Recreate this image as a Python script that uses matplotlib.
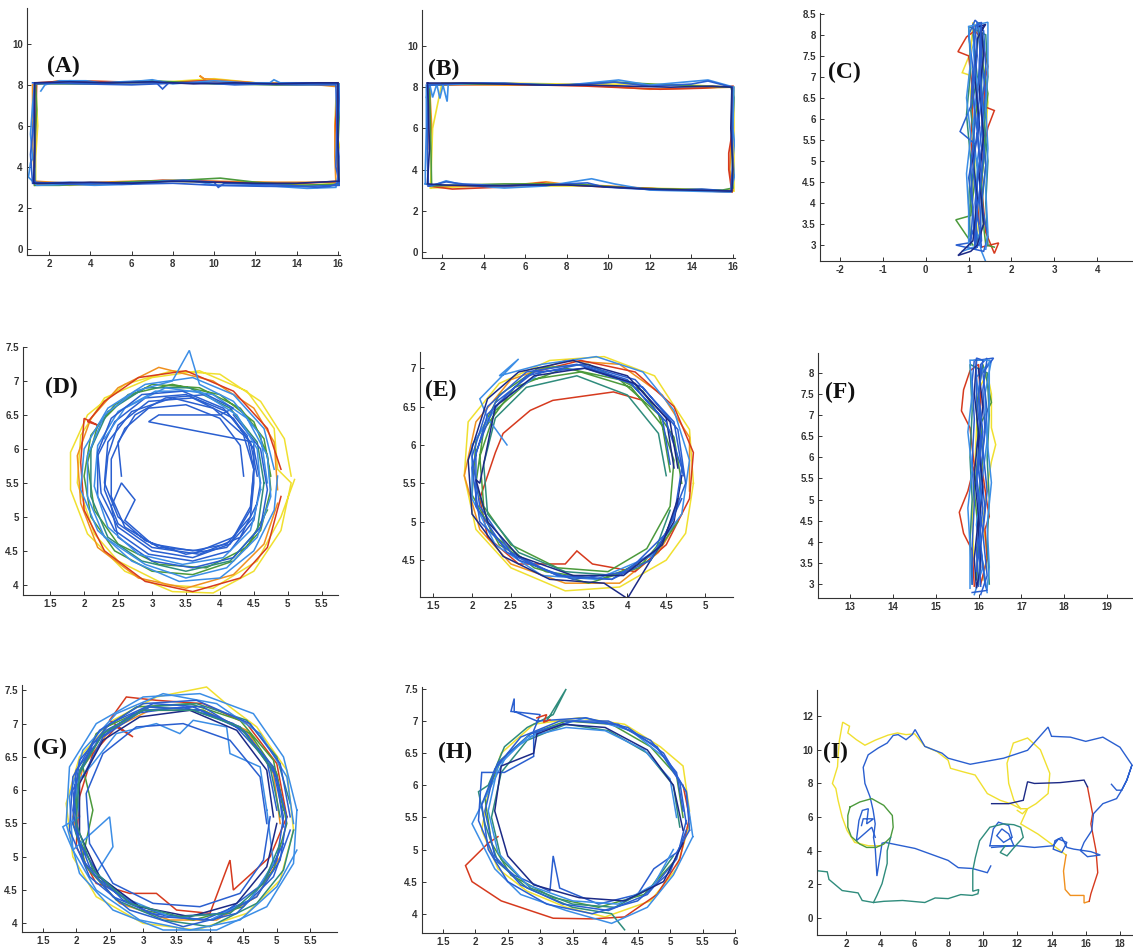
import matplotlib.pyplot as plt

W, H = 1133, 951

# jet-like trace colours
BLUE = '#2a5fd0'
SKY = '#3c8ee6'
NAVY = '#1c2a86'
TEAL = '#2f8c7c'
GREEN = '#4c9a3c'
YELLOW = '#f0e030'
ORANGE = '#f0901e'
RED = '#d63a1e'

# ---------------- panel A : rectangle
a_blue = [(1.3,3.25),(3.0,3.15),(5.0,3.2),(7.0,3.25),(8.5,3.35),(10.0,3.25),(10.2,3.0),(10.5,3.2),(12.0,3.15),
          (13.5,3.1),(15.0,3.0),(15.6,3.05),(16.0,3.2),(16.05,4.5),(15.95,6.0),(16.05,7.3),(16.0,8.05),(14.5,8.1),
          (12.5,8.05),(11.0,8.0),(9.5,8.1),(7.8,8.1),(7.5,7.8),(7.2,8.1),(5.0,8.1),(3.5,8.1),(1.3,8.05),(1.25,6.5),
          (1.3,5.0),(1.3,3.25)]
a_navy = [(1.25,3.2),(1.3,5.0),(1.3,6.8),(1.3,8.1),(3.0,8.15),(5.0,8.1),(7.0,8.15),(9.0,8.05),(11.0,8.1),(13.0,8.05),
          (15.0,8.1),(16.0,8.1),(16.0,6.5),(16.0,5.0),(16.05,3.3),(14.0,3.2),(12.0,3.2),(10.0,3.25),(8.0,3.3),
          (6.0,3.2),(4.0,3.25),(2.0,3.2),(1.25,3.2)]
a_sky = [(1.6,7.7),(1.8,8.0),(2.5,8.2),(3.8,8.2),(4.5,8.1),(6.5,8.2),(7.0,8.25),(8.0,8.05),(10.0,8.2),(11.5,8.1),
         (12.7,8.1),(12.9,8.25),(13.2,8.1),(14.8,8.1),(16.05,8.05),(16.1,7.2),(15.95,5.5),(16.05,3.8),(15.9,3.0),
         (14.5,2.95),(13.0,3.05),(11.5,3.1),(10.2,3.1),(9.0,3.3),(7.5,3.3),(6.0,3.15),(4.2,3.1),(3.0,3.15),
         (1.4,3.1),(1.0,3.5),(1.1,4.2),(1.2,4.4),(1.1,5.6),(1.2,7.0),(1.3,8.1)]
a_green = [(1.3,3.1),(2.5,3.1),(4.5,3.2),(6.5,3.3),(8.5,3.35),(10.3,3.45),(12.0,3.25),(14.0,3.1),(16.05,3.15),
           (16.0,5.0),(16.1,7.4),(16.05,8.05),(13.0,8.0),(10.0,8.05),(7.0,8.2),(4.0,8.05),(1.35,8.05),(1.4,6.8),
           (1.3,5.0),(1.3,3.1)]
a_yellow = [(1.35,8.1),(1.4,7.0),(1.45,6.0),(1.35,4.5),(1.35,3.2),(3.0,3.1),(6.0,3.2),(7.9,3.3),(10.0,3.25),
            (12.5,3.2),(14.5,3.1),(16.0,3.2),(16.2,4.5),(15.85,6.0),(15.9,7.2),(16.0,8.0),(13.0,8.0),(10.0,8.3),
            (7.0,8.1),(4.0,8.05),(1.35,8.1)]
a_orange = [(1.3,3.3),(3.0,3.2),(6.0,3.3),(8.0,3.3),(10.0,3.3),(13.0,3.25),(15.9,3.25),(15.85,4.5),(15.85,6.0),
            (16.0,7.6),(16.1,7.9),(14.0,8.1),(12.0,8.1),(9.5,8.3),(9.3,8.45),(9.6,8.2),(8.0,8.1),(5.0,8.15),
            (2.5,8.2),(1.2,8.0),(1.2,5.0),(1.3,3.3)]
a_red = [(1.3,3.15),(4.0,3.15),(7.5,3.35),(9.5,3.3),(12.0,3.2),(13.5,3.15),(16.0,3.3),(15.9,6.3),(16.0,8.1),
         (13.0,8.05),(9.5,8.2),(7.5,8.1),(3.0,8.2),(1.4,8.1),(1.35,6.0),(1.3,4.0)]
a_blue2 = [(1.2,8.1),(3.5,8.05),(6.0,8.0),(8.5,8.1),(11.0,8.05),(14.0,8.0),(15.9,8.0),(15.95,6.0),(15.9,4.0),
           (16.1,3.1),(14.5,3.05),(12.5,3.05),(10.0,3.1),(8.0,3.2),(5.5,3.15),(3.0,3.25),(1.2,3.2),(1.1,4.6),(1.25,6.2)]

# ---------------- panel B : rectangle
b_blue = [(1.35,3.2),(2.2,3.4),(3.0,3.3),(5.0,3.2),(7.0,3.25),(9.0,3.35),(9.8,3.15),(11.5,3.05),(13.0,3.0),
          (14.5,3.05),(15.9,2.95),(16.0,4.5),(15.95,6.5),(15.95,8.0),(14.8,8.3),(14.0,8.15),(12.0,8.05),
          (10.3,8.25),(9.0,8.15),(7.0,8.1),(5.0,8.2),(3.0,8.2),(1.35,8.1),(1.3,6.0),(1.3,4.5),(1.35,3.2)]
b_navy = [(1.3,8.2),(3.0,8.2),(5.0,8.15),(7.0,8.1),(9.0,8.1),(11.0,8.05),(13.0,8.0),(15.0,8.05),(15.95,8.0),
          (15.9,6.0),(16.0,4.0),(15.95,2.95),(14.0,3.0),(12.0,3.05),(10.0,3.15),(8.0,3.25),(6.0,3.25),(4.0,3.2),
          (2.0,3.25),(1.3,3.3),(1.4,5.0),(1.35,7.0),(1.3,8.2)]
b_zig = [(1.25,7.5),(1.4,8.2),(1.55,7.5),(1.75,8.15),(1.9,7.45),(2.05,8.1),(2.25,7.3),(2.3,8.1)]
b_green = [(1.4,3.2),(3.0,3.25),(5.0,3.3),(7.0,3.3),(9.0,3.25),(11.0,3.1),(13.0,3.05),(15.5,3.0),(16.0,3.1),
           (15.95,5.5),(16.05,7.5),(15.9,8.0),(13.0,8.1),(10.3,8.25),(8.0,8.1),(6.0,8.15),(3.0,8.15),(1.4,8.1),
           (1.45,6.0),(1.5,3.3)]
b_yellow = [(1.45,3.1),(4.0,3.2),(6.5,3.2),(9.0,3.2),(11.5,3.1),(14.0,3.05),(16.05,2.95),(16.05,5.5),(16.05,8.0),
            (14.0,8.1),(11.0,8.15),(8.0,8.15),(5.0,8.2),(2.0,8.2),(1.55,6.0),(1.5,4.5),(1.45,3.1)]
b_orange = [(1.5,3.2),(3.0,3.2),(5.0,3.2),(7.0,3.4),(7.8,3.3),(10.0,3.2),(12.5,3.05),(15.0,2.95),(16.0,3.0),
            (15.85,4.0),(15.9,5.0),(15.95,7.0),(16.0,8.0),(14.0,7.95),(12.0,7.9),(9.0,8.1),(5.0,8.1),(1.4,8.15),
            (1.5,6.2),(1.4,5.0)]
b_red = [(1.35,3.2),(2.5,3.05),(5.0,3.15),(6.8,3.35),(7.2,3.3),(10.0,3.15),(14.0,3.0),(15.95,2.9),(15.8,4.0),
         (15.8,4.8),(16.0,6.0),(16.0,8.05),(14.5,7.95),(12.5,7.9),(9.0,8.05),(5.0,8.15),(1.4,8.1),(1.3,5.0)]
b_sky = [(1.2,3.3),(1.5,3.2),(2.2,3.45),(3.0,3.25),(5.0,3.1),(7.0,3.2),(9.2,3.55),(10.3,3.3),(12.0,3.0),(14.0,2.95),
         (15.9,2.9),(16.1,3.8),(16.15,4.6),(16.0,6.0),(16.05,8.0),(14.8,8.35),(12.0,8.1),(10.5,8.35),(8.0,8.1),
         (4.0,8.2),(1.25,8.1),(1.25,6.0),(1.2,4.0),(1.2,3.3)]

# ---------------- panel C : vertical walk
c_yellow = [(1.2,3.1),(1.25,4.0),(1.35,5.0),(1.4,5.7),(1.45,6.4),(1.35,7.2),(1.25,8.0),(1.1,8.3),(1.05,7.6),
            (0.85,7.1),(1.0,7.05),(1.1,6.0),(1.15,5.0),(1.05,4.0),(1.2,3.1)]
c_red = [(1.3,2.95),(1.7,3.05),(1.6,2.8),(1.4,3.3),(1.3,4.4),(1.35,5.3),(1.45,5.8),(1.6,6.2),(1.35,6.3),(1.4,7.0),
         (1.45,7.25),(1.3,7.9),(1.15,8.1),(0.95,7.95),(0.75,7.6),(1.0,7.5),(1.1,6.6),(1.05,5.5),(1.15,4.5),(1.25,3.5)]
c_green = [(1.1,3.0),(0.7,3.6),(1.05,3.7),(1.15,4.6),(1.1,5.5),(1.2,6.4),(1.15,7.3),(1.25,8.2),(1.3,7.5),
           (1.45,6.6),(1.35,5.7),(1.4,4.9),(1.3,3.9),(1.4,3.0),(1.6,2.95)]
c_teal = [(1.0,3.2),(1.05,4.2),(1.15,5.2),(1.05,6.2),(1.2,7.0),(1.1,8.0),(1.25,8.3),(1.35,7.8),(1.3,6.8),(1.4,5.5),
          (1.3,4.5),(1.35,3.5),(1.15,3.0)]
c_teal2 = [(1.45,3.0),(1.4,4.0),(1.45,5.0),(1.35,6.0),(1.45,7.0),(1.4,8.0),(1.0,8.2),(1.05,7.2),(0.95,6.1),(1.05,5.0),
           (1.0,4.0),(1.05,3.0)]
c_blue = [(1.2,2.95),(1.15,4.0),(1.25,5.0),(1.2,6.0),(1.3,7.0),(1.25,7.8),(1.2,8.3),(1.35,8.1),(1.4,7.2),(1.3,6.2),
          (1.35,5.2),(1.25,4.2),(1.3,3.1),(1.15,2.9),(1.1,3.8),(1.05,4.9),(1.15,5.9),(1.1,6.8),(1.15,7.6),(1.1,8.25)]
c_blue2 = [(1.05,3.05),(1.1,3.9),(1.0,4.6),(1.15,5.4),(0.8,5.7),(1.05,6.3),(1.1,7.2),(1.0,8.0),(1.15,8.35),(1.3,8.2),
           (1.3,7.4),(1.4,6.6),(1.3,5.8),(1.4,4.9),(1.3,4.0),(1.45,3.2),(1.35,2.85),(0.7,3.0),(1.0,3.05),(1.2,3.6),
           (1.2,4.5),(1.3,5.3),(1.2,6.4),(1.25,7.3),(1.3,8.2)]
c_blue3 = [(1.0,2.9),(1.0,3.8),(0.95,4.7),(1.05,5.6),(0.95,6.5),(1.05,7.4),(1.0,8.2),(1.45,8.3),(1.45,7.3),(1.4,6.3),
           (1.45,5.3),(1.4,4.3),(1.45,3.3),(1.4,2.9)]
c_sky = [(1.4,2.6),(1.3,2.85),(1.15,3.5),(1.2,4.8),(1.1,5.8),(1.2,6.8),(1.1,7.7),(1.2,8.3),(1.3,8.0),(1.25,7.0),
         (1.35,6.0),(1.2,5.0),(1.3,4.0),(1.25,3.0),(0.85,2.85)]
c_navy = [(1.25,8.2),(1.4,8.25),(1.3,8.1),(1.35,7.5),(1.25,6.7),(1.35,5.6),(1.25,4.6),(1.35,3.5),(1.2,3.0),(1.05,2.85),
          (0.75,2.75),(1.1,3.1),(1.2,4.1),(1.1,5.0),(1.25,5.9),(1.15,6.9),(1.2,7.9),(1.35,8.2)]
c_navy2 = [(1.15,3.0),(1.2,3.9),(1.1,4.8),(1.2,5.7),(1.1,6.6),(1.2,7.5),(1.15,8.2),(1.3,8.3),(1.25,7.4),(1.3,6.5),
           (1.2,5.6),(1.3,4.7),(1.2,3.8),(1.3,2.95)]

# ---------------- panel D : circle
d_yellow = [(5.05,5.6),(4.95,6.15),(4.6,6.7),(4.0,7.1),(3.3,7.15),(2.6,6.95),(2.05,6.5),(1.8,5.95),(1.8,5.4),
            (2.05,4.75),(2.6,4.2),(3.3,3.9),(3.9,3.88),(4.5,4.2),(4.9,4.8),(5.05,5.5),(4.85,5.7),(4.8,6.3),
            (4.4,6.85),(3.7,7.15),(3.0,7.05),(2.3,6.75),(1.95,6.2),(1.9,5.5),(2.15,4.75),(2.5,4.35),(3.2,4.0),
            (3.9,3.95),(4.55,4.35),(4.9,5.0),(5.1,5.55)]
d_orange = [(4.85,5.4),(4.8,6.1),(4.5,6.6),(3.9,7.0),(3.1,7.2),(2.5,6.9),(2.1,6.45),(1.9,5.9),(1.95,5.2),
            (2.2,4.55),(2.8,4.1),(3.5,3.95),(4.2,4.15),(4.65,4.6),(4.85,5.2)]
d_red = [(4.9,5.7),(4.7,6.3),(4.2,6.85),(3.5,7.15),(2.8,7.05),(2.3,6.7),(2.1,6.45),(2.05,6.4),(2.2,6.35),(2.0,6.45),
         (1.95,5.8),(2.0,5.1),(2.3,4.5),(2.9,4.05),(3.6,3.9),(4.3,4.1),(4.7,4.55),(4.9,5.3)]
d_green = [(4.75,5.6),(4.65,6.15),(4.3,6.6),(3.7,6.9),(3.0,6.95),(2.45,6.65),(2.1,6.2),(2.0,5.6),(2.1,5.0),
           (2.45,4.5),(3.0,4.2),(3.6,4.15),(4.2,4.35),(4.6,4.8),(4.75,5.4),(4.7,5.9),(4.5,6.4),(4.0,6.8),(3.3,6.95),
           (2.65,6.8),(2.2,6.35),(2.05,5.8),(2.15,5.1),(2.5,4.6),(3.1,4.3),(3.8,4.25),(4.4,4.55),(4.7,5.1)]
d_teal = [(4.65,5.5),(4.55,6.1),(4.15,6.6),(3.55,6.9),(2.9,6.9),(2.35,6.55),(2.1,6.0),(2.1,5.3),(2.35,4.7),
          (2.85,4.35),(3.5,4.2),(4.15,4.35),(4.55,4.8),(4.65,5.5)]
d_blue = [(4.55,5.6),(4.45,6.1),(4.1,6.55),(3.5,6.8),(2.9,6.75),(2.45,6.4),(2.2,5.9),(2.2,5.3),(2.45,4.8),
          (2.95,4.45),(3.6,4.35),(4.15,4.5),(4.5,4.95),(4.6,5.5),(4.5,6.0),(4.2,6.45),(3.6,6.75),(2.95,6.7),
          (2.5,6.35),(2.35,5.9),(2.3,5.4),(2.5,4.9),(3.0,4.55),(3.7,4.45),(4.3,4.7),(4.55,5.2)]
d_blue2 = [(4.7,5.5),(4.6,6.2),(4.2,6.7),(3.7,6.95),(3.55,7.45),(3.3,7.0),(2.75,6.85),(2.3,6.5),(2.05,5.9),
           (2.05,5.3),(2.3,4.7),(2.9,4.3),(3.5,4.1),(4.1,4.25),(4.55,4.7),(4.75,5.3),(4.7,5.9),(4.4,6.45),
           (3.9,6.8),(3.2,6.9),(2.6,6.6),(2.3,6.15)]
d_blue3 = [(2.55,5.6),(2.5,6.1),(2.75,6.5),(3.2,6.75),(3.8,6.8),(4.2,6.6),(4.0,6.5),(3.1,6.5),(2.95,6.4),(4.5,6.1),
           (4.5,5.5),(4.45,5.0),(4.1,4.6),(3.6,4.5),(3.0,4.6),(2.6,4.95),(2.75,5.25),(2.55,5.5),(2.4,5.15),
           (2.5,4.7),(3.0,4.35),(3.6,4.25),(4.2,4.4),(4.6,4.85),(4.7,5.4),(4.6,6.0),(4.2,6.5)]
d_blue4 = [(4.35,5.6),(4.3,6.05),(4.0,6.45),(3.5,6.65),(2.95,6.6),(2.6,6.3),(2.4,5.85),(2.4,5.3),(2.6,4.85),
           (3.1,4.55),(3.7,4.5),(4.2,4.7),(4.45,5.15),(4.5,5.7),(4.35,6.2),(3.9,6.6),(3.3,6.75),(2.7,6.55),
           (2.35,6.1),(2.3,5.5),(2.5,5.0),(2.9,4.65),(3.5,4.45),(4.1,4.55),(4.5,5.0)]
d_blue5 = [(4.6,5.4),(4.55,6.0),(4.25,6.5),(3.7,6.85),(3.05,6.85),(2.5,6.55),(2.2,6.05),(2.15,5.45),(2.35,4.85),
           (2.8,4.45),(3.45,4.3),(4.05,4.4),(4.45,4.8),(4.6,5.4)]
d_sky = [(4.8,5.7),(4.65,6.3),(4.2,6.8),(3.6,7.05),(2.9,6.95),(2.35,6.6),(2.0,6.0),(1.95,5.4),(2.2,4.8),(2.7,4.35),
         (3.4,4.05),(4.0,4.1),(4.5,4.5),(4.8,5.1),(4.85,5.6)]
d_navy = [(4.5,5.7),(4.4,6.2),(4.05,6.6),(3.45,6.85),(2.85,6.8),(2.4,6.45),(2.2,5.95),(2.25,5.35),(2.5,4.85),
          (3.0,4.5),(3.6,4.4),(4.15,4.6),(4.45,5.1),(4.5,5.7)]

# ---------------- panel E : circle
e_yellow = [(4.85,5.5),(4.8,6.2),(4.35,6.9),(3.7,7.15),(3.0,7.1),(2.35,6.8),(1.95,6.3),(1.9,5.6),(2.05,4.9),
            (2.5,4.4),(3.2,4.1),(3.9,4.15),(4.5,4.5),(4.75,4.85),(4.85,5.5)]
e_orange = [(4.8,5.4),(4.8,6.1),(4.45,6.65),(3.9,7.05),(3.2,7.1),(2.5,6.85),(2.05,6.3),(1.9,5.6),(2.1,4.9),
            (2.5,4.45),(3.2,4.2),(3.9,4.2),(4.4,4.6),(4.7,5.1)]
e_red = [(4.2,6.58),(3.82,6.69),(3.04,6.58),(2.75,6.45),(2.4,6.15),(2.3,5.9),(2.1,5.3),(2.2,4.8),(2.6,4.45),
         (3.2,4.45),(3.35,4.62),(3.55,4.45),(4.1,4.35),(4.5,4.7),(4.8,5.3),(4.85,5.9),(4.6,6.5),(4.1,6.95),
         (3.4,7.1),(2.8,6.95)]
e_green = [(4.55,5.65),(4.45,6.25),(4.05,6.75),(3.4,6.95),(2.75,6.85),(2.3,6.45),(2.1,5.85),(2.15,5.2),(2.5,4.7),
           (3.1,4.4),(3.75,4.35),(4.25,4.65),(4.55,5.2),(4.6,5.8),(4.4,6.4),(3.9,6.85),(3.2,7.0),(2.55,6.75),
           (2.15,6.2),(2.05,5.5),(2.25,4.85),(2.8,4.4),(3.5,4.2),(4.15,4.4),(4.6,4.95)]
e_teal = [(4.5,5.6),(4.4,6.15),(4.0,6.65),(3.35,6.9),(2.7,6.75),(2.3,6.35),(2.15,5.75),(2.2,5.1),(2.6,4.6),
          (3.2,4.35),(3.85,4.3),(4.35,4.6),(4.55,5.15)]
e_teal2 = [(4.7,5.5),(4.6,6.1),(4.2,6.7),(3.5,7.05),(2.85,7.0),(2.35,6.65),(2.05,6.05),(2.0,5.35),(2.35,4.7),
           (2.95,4.35),(3.65,4.25),(4.3,4.5),(4.65,5.0)]
e_blue = [(4.72,5.6),(4.6,6.3),(4.1,6.85),(3.4,7.05),(2.7,6.9),(2.2,6.4),(2.0,5.7),(2.1,5.0),(2.6,4.5),(3.3,4.25),
          (4.0,4.35),(4.5,4.85),(4.75,5.5),(4.65,6.2),(4.2,6.75),(3.5,7.0),(2.8,6.95),(2.3,6.55),(2.05,5.9),
          (2.05,5.2),(2.45,4.6),(3.1,4.3),(3.8,4.25),(4.4,4.65),(4.7,5.3)]
e_blue2 = [(4.6,5.7),(4.5,6.35),(4.0,6.9),(3.3,7.1),(2.6,6.95),(2.2,6.6),(1.95,5.8),(2.0,5.1),(2.4,4.55),(3.0,4.25),
           (3.7,4.2),(4.0,4.0),(4.3,4.5),(4.6,5.0),(4.7,5.6)]
e_blue3 = [(4.55,5.75),(4.45,6.35),(4.0,6.85),(3.35,7.05),(2.7,6.95),(2.2,6.5),(2.0,5.85),(2.1,5.2),(2.5,4.6),
           (3.1,4.3),(3.8,4.25),(4.3,4.5),(4.6,5.05),(4.7,5.7),(4.5,6.3),(4.05,6.8),(3.45,7.0)]
e_sky = [(2.45,6.0),(2.2,6.35),(2.1,6.6),(2.6,7.12),(2.35,6.9),(2.9,7.05),(3.6,7.15),(4.2,6.95),(4.6,6.45),(4.8,5.8),
         (4.7,5.1),(4.3,4.55),(3.6,4.25),(2.9,4.3),(2.3,4.7),(2.0,5.3),(2.0,6.0),(2.35,6.55),(2.9,6.95)]
e_navy = [(4.65,5.7),(4.55,6.3),(4.1,6.8),(3.45,7.0),(2.8,6.9),(2.3,6.5),(2.1,5.5),(2.05,5.55),(2.2,5.0),(2.6,4.55),
          (3.3,4.3),(3.95,4.3),(4.45,4.7),(4.65,5.3)]

# ---------------- panel F : vertical walk
f_yellow = [(16.1,3.1),(16.2,3.7),(16.1,4.5),(16.2,5.3),(16.3,5.9),(16.4,6.3),(16.3,6.7),(16.3,7.5),(16.2,8.0),
            (16.0,7.6),(15.95,6.6),(15.9,5.5),(15.85,4.4),(15.9,3.5)]
f_red = [(15.9,2.95),(15.85,3.8),(15.65,4.2),(15.55,4.7),(15.75,5.2),(15.9,5.8),(15.8,6.7),(15.6,7.1),(15.65,7.6),
         (15.8,8.05),(16.0,8.2),(16.05,7.3),(16.0,6.3),(16.2,4.9),(16.25,4.6),(16.15,4.3),(16.2,3.6),(16.05,3.0)]
f_green = [(16.0,3.0),(16.05,4.0),(16.0,5.0),(16.1,6.0),(16.05,6.8),(16.3,7.3),(16.2,7.8),(16.1,8.2),(15.95,7.2),
           (16.0,6.2),(15.9,5.2),(16.0,4.2),(15.95,3.1)]
f_teal = [(16.25,3.0),(16.2,4.0),(16.25,5.0),(16.2,6.0),(16.25,7.0),(16.2,8.0),(15.8,8.2),(15.85,7.1),(15.8,6.0),
          (15.85,5.0),(15.8,4.0),(15.85,3.0)]
f_blue = [(16.0,2.95),(15.95,3.8),(16.05,4.7),(15.95,5.6),(16.05,6.5),(16.0,7.4),(16.05,8.2),(16.2,8.35),(16.1,7.6),
          (16.15,6.6),(16.05,5.7),(16.15,4.8),(16.05,3.9),(16.15,3.0),(16.2,2.85),(15.85,2.8)]
f_blue2 = [(15.85,3.0),(15.85,3.9),(15.9,4.9),(15.85,5.9),(15.9,6.9),(15.85,7.8),(15.9,8.3),(16.0,8.3),(16.35,8.35),
           (16.1,8.0),(16.2,7.1),(16.1,6.2),(16.2,5.2),(16.1,4.2),(16.2,3.2),(16.05,2.75)]
f_blue3 = [(15.8,2.9),(15.8,3.9),(15.75,4.8),(15.85,5.7),(15.75,6.6),(15.85,7.5),(15.8,8.3),(16.25,8.3),(16.25,7.3),
           (16.2,6.4),(16.3,5.4),(16.2,4.4),(16.25,3.4),(16.2,2.9)]
f_sky = [(16.2,2.8),(16.1,3.5),(15.95,4.4),(16.05,5.3),(15.95,6.2),(16.05,7.0),(15.95,7.9),(16.3,8.3),(16.15,7.5),
         (16.2,6.4),(16.1,5.6),(16.0,4.5),(16.1,3.4),(15.9,2.75)]
f_navy = [(15.95,8.3),(15.9,7.5),(16.0,6.6),(15.9,5.6),(16.0,4.6),(15.9,3.6),(15.95,2.9),(16.05,3.4),(16.0,4.3),
          (16.1,5.3),(16.0,6.3),(16.1,7.2),(16.0,8.1)]
f_navy2 = [(16.05,2.95),(16.0,3.9),(16.1,4.8),(16.0,5.7),(16.1,6.6),(16.0,7.5),(16.1,8.3),(15.95,8.35),(15.95,7.4),
           (16.05,6.5),(15.95,5.4),(16.05,4.4),(15.95,3.3)]

# ---------------- panel G : circle
g_yellow = [(5.25,5.4),(5.15,6.3),(4.7,6.95),(4.3,7.25),(3.95,7.55),(3.2,7.4),(2.55,7.05),(2.05,6.5),(1.85,5.8),
            (1.95,5.0),(2.3,4.4),(3.0,4.0),(3.8,3.9),(4.55,4.15),(5.05,4.65),(5.25,5.4)]
g_orange = [(5.05,5.5),(4.95,6.25),(4.55,6.9),(3.9,7.2),(3.1,7.2),(2.5,6.9),(2.1,6.35),(1.95,5.6),(2.15,4.85),
            (2.65,4.3),(3.4,4.05),(4.1,4.05),(4.7,4.4),(5.05,5.0)]
g_red = [(5.15,5.6),(5.0,6.4),(4.55,7.0),(3.9,7.3),(3.2,7.35),(2.75,7.4),(2.5,7.05),(2.85,6.8),(2.6,6.95),(2.25,6.55),
         (2.05,5.9),(2.0,5.15),(2.3,4.6),(2.8,4.45),(3.2,4.45),(3.5,4.2),(4.0,4.15),(4.3,4.95),(4.35,4.5),(4.9,5.0),
         (5.15,5.6)]
g_green = [(5.1,5.7),(4.95,6.45),(4.45,7.05),(3.7,7.3),(2.9,7.25),(2.3,6.85),(2.0,6.15),(2.0,5.35),(2.35,4.65),
           (3.0,4.2),(3.75,4.05),(4.5,4.25),(4.95,4.8),(5.15,5.5),(5.0,6.25),(4.6,6.85),(3.9,7.2),(3.1,7.25),
           (2.45,6.95),(2.1,6.35),(2.25,5.7),(2.1,5.0)]
g_teal = [(5.2,5.8),(5.0,6.5),(4.55,7.05),(3.8,7.3),(3.05,7.25),(2.4,6.85),(2.05,6.3),(1.95,5.5),(2.15,4.85),
          (2.6,4.35),(3.3,4.05),(4.0,3.95),(4.7,4.3),(5.1,4.8),(5.25,5.4)]
g_blue = [(5.2,5.6),(5.05,6.4),(4.6,7.0),(3.8,7.35),(3.0,7.3),(2.35,6.9),(1.95,6.2),(1.9,5.4),(2.2,4.7),(2.8,4.2),
          (3.6,3.95),(4.4,4.15),(4.95,4.7),(5.2,5.4)]
g_blue2 = [(5.0,5.7),(4.85,6.45),(4.35,7.0),(3.6,7.25),(2.85,7.15),(2.25,6.7),(1.95,6.0),(2.05,5.2),(2.45,4.55),
           (3.1,4.15),(3.9,4.05),(4.6,4.35),(5.0,4.95),(5.1,5.6),(4.95,6.3),(4.5,6.9),(3.85,7.2),(3.1,7.25),
           (2.45,6.9),(2.0,6.3),(1.95,5.5),(2.2,4.85),(2.7,4.35),(3.4,4.1),(4.2,4.15),(4.8,4.6),(5.1,5.2)]
g_blue3 = [(4.85,5.7),(4.75,6.35),(4.3,6.55),(4.25,6.95),(3.75,7.05),(3.55,6.85),(3.2,7.0),(2.6,6.85),(2.25,6.4),
           (2.0,6.1),(2.05,5.6),(1.8,5.45),(1.95,5.1),(2.5,5.6),(2.55,5.15),(2.3,4.75),(2.8,4.35),(3.4,4.1),
           (4.0,4.05),(4.6,4.35),(4.95,4.9),(4.85,5.7)]
g_blue4 = [(5.1,5.45),(5.0,6.2),(4.55,6.85),(3.9,7.25),(3.15,7.3),(2.5,7.0),(2.05,6.45),(1.95,5.7),(2.1,4.95),
           (2.55,4.4),(3.25,4.1),(4.05,4.05),(4.7,4.4),(5.05,4.95),(5.15,5.6),(4.95,6.35),(4.45,6.95),(3.75,7.25),
           (3.0,7.2),(2.4,6.8),(2.1,6.2)]
g_blue5 = [(4.85,5.5),(4.75,6.2),(4.3,6.75),(3.6,7.0),(2.9,6.95),(2.4,6.55),(2.15,5.95),(2.2,5.2),(2.55,4.6),
           (3.15,4.3),(3.85,4.25),(4.45,4.45),(4.8,4.95),(4.9,5.6)]
g_sky = [(5.25,5.5),(5.15,6.2),(4.75,6.85),(4.1,7.3),(3.3,7.45),(2.6,7.15),(2.1,6.6),(1.9,5.9),(1.95,5.1),(2.3,4.5),
         (2.95,4.05),(3.7,3.9),(4.45,4.05),(5.0,4.55),(5.3,5.1)]
g_sky2 = [(5.3,5.7),(5.1,6.5),(4.65,7.15),(3.85,7.45),(3.0,7.4),(2.3,7.0),(1.9,6.35),(1.85,5.5),(2.05,4.75),
          (2.55,4.2),(3.3,3.9),(4.1,3.9),(4.85,4.25),(5.25,4.9),(5.3,5.7)]
g_navy = [(4.95,5.6),(4.85,6.3),(4.4,6.9),(3.7,7.2),(2.95,7.1),(2.4,6.75),(2.05,6.1),(2.05,5.35),(2.35,4.7),
          (2.95,4.25),(3.7,4.1),(4.4,4.3),(4.85,4.85),(5.0,5.5)]
g_navy2 = [(5.05,5.6),(4.9,6.35),(4.45,6.95),(3.75,7.2),(3.0,7.2),(2.4,6.85),(2.05,6.25),(2.0,5.5),(2.25,4.8),
           (2.8,4.3),(3.55,4.1),(4.3,4.15),(4.8,4.6),(5.05,5.2)]

# ---------------- panel H : circle
h_yellow = [(5.3,5.6),(5.2,6.3),(4.85,6.6),(4.3,6.95),(3.6,7.05),(2.9,6.95),(2.4,6.5),(2.2,5.9),(2.1,5.3),(2.35,4.7),
            (2.8,4.35),(3.4,4.1),(4.0,3.95),(4.7,4.2),(5.1,4.7),(5.3,5.4)]
h_red = [(2.35,5.2),(2.2,5.1),(1.85,4.75),(1.95,4.5),(2.4,4.2),(3.2,3.93),(3.8,3.92),(4.3,3.95),(4.8,4.3),
         (5.15,4.85),(5.3,5.5),(5.2,6.0)]
h_blob = [(2.95,7.05),(3.1,7.1),(3.05,6.98),(3.15,7.02)]
h_green = [(5.2,5.5),(5.1,6.15),(4.7,6.6),(4.1,6.95),(3.4,7.0),(2.85,6.8),(2.4,6.4),(2.15,5.8),(2.25,5.1),
           (2.55,4.6),(3.2,4.25),(3.9,4.1),(4.6,4.3),(5.05,4.8)]
h_green2 = [(3.1,7.0),(3.4,7.5),(3.2,7.1),(2.8,6.9),(2.45,6.6),(2.2,6.0),(2.05,5.9),(2.15,5.4),(2.35,4.8),(2.8,4.4),
            (3.5,4.1),(4.1,4.0),(4.3,3.75)]
h_teal = [(5.15,5.35),(5.05,6.0),(4.65,6.5),(4.05,6.85),(3.4,6.95),(2.8,6.7),(2.4,6.2),(2.25,5.5),(2.4,4.85),
          (2.85,4.4),(3.5,4.15),(4.15,4.1),(4.7,4.4),(5.05,4.9)]
h_blue = [(5.25,5.4),(5.15,6.05),(4.8,6.6),(4.2,6.95),(3.5,7.0),(2.85,6.8),(2.35,6.35),(2.1,5.7),(2.2,5.0),(2.5,4.5),
          (3.1,4.15),(3.8,4.0),(4.5,4.2),(5.0,4.65),(5.25,5.3)]
h_blue2 = [(5.3,5.3),(5.25,5.9),(4.9,6.5),(4.35,6.9),(3.7,7.05),(2.95,7.0),(2.6,7.15),(2.6,7.35),(2.55,7.15),
           (3.0,7.1),(2.9,6.85),(2.9,6.45),(2.45,6.2),(2.1,6.2),(2.05,5.45),(2.3,4.85),(2.6,4.6),(3.15,4.35),
           (3.2,4.9),(3.3,4.4),(3.9,4.15),(4.5,4.3),(4.75,4.7),(5.1,4.95),(5.3,5.3)]
h_blue3 = [(5.1,5.5),(5.0,6.1),(4.6,6.55),(4.0,6.85),(3.4,6.9),(2.8,6.75),(2.35,6.3),(2.2,5.6),(2.35,4.95),(2.8,4.45),
           (3.5,4.2),(4.2,4.15),(4.75,4.45),(5.05,5.0)]
h_blue4 = [(5.2,5.6),(5.1,6.2),(4.7,6.7),(4.05,7.0),(3.3,7.0),(2.7,6.75),(2.3,6.25),(2.15,5.6),(2.3,4.9),(2.7,4.45),
           (3.35,4.15),(4.05,4.05),(4.65,4.3),(5.1,4.85),(5.25,5.45)]
h_sky = [(5.35,5.2),(5.25,5.9),(4.95,6.4),(4.4,6.85),(3.7,7.05),(3.0,6.85),(2.5,6.5),(2.2,5.9),(1.95,5.4),(2.3,4.7),
         (2.7,4.3),(3.4,4.05),(4.1,3.85),(4.65,4.1),(5.05,4.6),(5.35,5.2)]
h_navy = [(5.2,5.3),(5.05,6.0),(4.65,6.55),(4.0,6.9),(3.35,6.95),(2.95,6.8),(2.9,6.5),(2.4,6.3),(2.3,5.6),(2.5,4.9),
          (2.9,4.45),(3.6,4.25),(4.3,4.2),(4.9,4.5),(5.2,5.1)]

# ---------------- panel I : single exploration
i_yellow = [(4.0,4.3),(3.3,4.3),(2.5,4.5),(2.06,5.2),(1.77,6.0),(1.53,7.0),(1.4,7.7),(1.2,8.0),(1.5,9.0),(1.53,9.56),
            (1.6,10.5),(1.8,11.64),(2.2,11.4),(2.1,11.0),(2.6,10.6),(3.1,10.27),(3.7,10.57),(4.45,10.87),(5.0,11.0),
            (5.5,10.9),(6.0,10.95),(6.6,10.2),(7.3,9.9),(7.96,9.38),(8.1,8.9),(8.8,8.7),(9.54,8.5),(10.25,7.4),
            (11.0,7.0),(11.6,6.8),(12.2,6.5),(12.6,6.5),(12.3,6.2),(12.0,6.4)]
i_yellow2 = [(12.2,6.5),(11.8,7.0),(11.5,8.0),(11.4,9.2),(11.77,10.4),(12.6,10.7),(13.35,10.0),(13.9,8.6),
             (13.8,7.4),(13.1,6.8),(12.6,6.5),(12.2,5.6),(13.2,5.0),(14.0,4.4),(14.85,3.75)]
i_orange = [(14.85,3.75),(14.7,2.8),(14.8,1.7),(15.1,1.35),(15.9,1.35),(15.9,0.9),(16.2,1.0)]
i_red = [(16.2,1.0),(16.3,1.45),(16.7,2.7),(16.6,4.0),(16.3,5.6),(16.4,6.2),(16.1,7.8)]
i_navy = [(16.1,7.8),(15.9,8.2),(14.5,8.05),(13.0,8.0),(12.6,8.1),(12.35,7.0),(11.5,6.8),(10.5,6.8)]
i_blue = [(18.7,9.1),(18.0,10.15),(17.0,10.75),(16.0,10.5),(15.1,10.75),(14.0,10.8),(13.8,11.35),(12.6,9.97),
          (11.2,9.5),(9.25,9.14),(7.96,9.5),(7.6,9.8),(6.6,10.2),(6.03,11.2),(5.86,10.9),(5.5,10.6),(5.04,10.9),
          (4.75,10.85),(4.4,10.4),(3.87,10.1),(3.29,9.7),(3.0,8.96),(3.1,8.0),(3.4,7.2),(3.58,6.4),(3.7,5.6),
          (3.6,4.8),(3.7,4.2),(3.8,2.5),(4.1,4.45),(4.28,4.5),(6.03,4.14),(7.96,3.43),(8.55,3.0),(9.37,2.95),
          (10.25,2.7),(10.45,3.1)]
i_blue_right = [(17.5,7.95),(17.8,7.6),(18.1,7.6),(18.4,8.2),(18.7,9.1),(18.4,8.2),(18.1,7.6),(17.8,7.1),(17.0,6.8),
                (16.45,6.2),(16.35,5.2),(15.9,4.5),(15.7,4.0),(16.1,3.65),(16.85,3.75),(16.3,3.95),(15.3,4.1),
                (14.9,4.2),(14.6,4.8),(14.2,4.6),(14.1,4.1),(14.6,3.9),(14.9,4.5),(14.4,4.7),(14.1,4.3),(13.0,4.2),
                (12.0,4.3),(10.4,4.3)]
i_blue_mid = [(10.4,4.3),(10.6,5.3),(10.9,5.7),(11.5,5.5),(11.7,4.8),(11.2,4.5),(10.8,4.9),(11.1,5.3),(11.5,5.0),
              (11.8,4.3),(10.5,4.2)]
i_blue_left = [(3.7,4.8),(3.5,5.4),(2.6,4.6),(2.75,5.8),(2.95,6.4),(3.3,6.5),(3.2,5.6),(3.6,5.9),(3.0,5.9),(2.9,5.5)]
i_green = [(2.23,6.6),(2.8,6.9),(3.5,7.1),(4.2,6.7),(4.7,6.1),(4.75,5.4),(4.6,4.8),(4.2,4.4),(3.75,4.2),(3.2,4.2),
           (2.8,4.4),(2.3,4.85),(2.1,5.4),(2.1,6.1),(2.23,6.6)]
i_green_down = [(4.6,4.8),(4.4,4.0),(4.4,3.25),(4.1,2.05),(3.8,1.35),(3.6,0.93)]
i_teal = [(0.19,2.83),(0.9,2.75),(1.0,2.3),(1.77,1.64),(2.7,1.5),(2.94,1.05),(3.6,0.93),(4.2,1.0),(5.3,1.05),
          (6.6,0.93),(7.2,1.2),(7.96,1.16),(8.7,1.4),(9.37,1.35),(9.7,1.45),(9.75,1.7),(9.4,1.6),(9.4,2.83),
          (9.55,3.6),(9.8,4.6),(10.4,5.4),(11.2,5.6),(11.8,5.55),(12.2,5.4),(12.35,4.8),(11.9,4.3),(11.4,3.7),
          (11.0,3.9),(11.3,4.3)]

# ---------------- panel settings: label, pixel box, limits, ticks
A_XTICKS = [2, 4, 6, 8, 10, 12, 14, 16]
A_YTICKS = [0, 2, 4, 6, 8, 10]
C_XTICKS = [-2, -1, 0, 1, 2, 3, 4]
C_YTICKS = [3, 3.5, 4, 4.5, 5, 5.5, 6, 6.5, 7, 7.5, 8, 8.5]
D_XTICKS = [1.5, 2, 2.5, 3, 3.5, 4, 4.5, 5, 5.5]
D_YTICKS = [4, 4.5, 5, 5.5, 6, 6.5, 7, 7.5]
E_XTICKS = [1.5, 2, 2.5, 3, 3.5, 4, 4.5, 5]
E_YTICKS = [4.5, 5, 5.5, 6, 6.5, 7]
F_XTICKS = [13, 14, 15, 16, 17, 18, 19]
F_YTICKS = [3, 3.5, 4, 4.5, 5, 5.5, 6, 6.5, 7, 7.5, 8]
H_XTICKS = [1.5, 2, 2.5, 3, 3.5, 4, 4.5, 5, 5.5, 6]
I_XTICKS = [2, 4, 6, 8, 10, 12, 14, 16, 18]
I_YTICKS = [0, 2, 4, 6, 8, 10, 12]

panels = [
    ('(A)', (27, 8, 340, 255), (0.93, 16.1), (-0.3, 11.75), A_XTICKS, A_YTICKS, (47, 66), 1.2,
     [(a_yellow, YELLOW), (a_orange, ORANGE), (a_red, RED), (a_green, GREEN), (a_sky, SKY), (a_blue, BLUE),
      (a_blue2, BLUE), (a_navy, NAVY)]),
    ('(B)', (422, 10, 735, 258), (1.04, 16.1), (-0.3, 11.75), A_XTICKS, A_YTICKS, (428, 69), 1.2,
     [(b_yellow, YELLOW), (b_orange, ORANGE), (b_red, RED), (b_green, GREEN), (b_sky, SKY), (b_zig, SKY),
      (b_blue, BLUE), (b_navy, NAVY)]),
    ('(C)', (820, 13, 1140, 261), (-2.47, 5.0), (2.62, 8.52), C_XTICKS, C_YTICKS, (828, 72), 1.1,
     [(c_yellow, YELLOW), (c_red, RED), (c_green, GREEN), (c_teal, TEAL), (c_teal2, TEAL), (c_sky, SKY),
      (c_blue, BLUE), (c_blue2, BLUE), (c_blue3, SKY), (c_navy, NAVY), (c_navy2, BLUE)]),
    ('(D)', (23, 347, 338, 595), (1.1, 5.74), (3.85, 7.5), D_XTICKS, D_YTICKS, (45, 387), 1.1,
     [(d_yellow, YELLOW), (d_orange, ORANGE), (d_red, RED), (d_green, GREEN), (d_teal, TEAL), (d_sky, SKY),
      (d_blue, BLUE), (d_blue2, SKY), (d_blue3, BLUE), (d_blue4, BLUE), (d_blue5, SKY), (d_navy, BLUE)]),
    ('(E)', (420, 352, 733, 597), (1.33, 5.36), (4.02, 7.21), E_XTICKS, E_YTICKS, (425, 390), 1.1,
     [(e_yellow, YELLOW), (e_orange, ORANGE), (e_red, RED), (e_green, GREEN), (e_teal, TEAL), (e_teal2, GREEN),
      (e_sky, SKY), (e_blue, BLUE), (e_blue2, NAVY), (e_blue3, BLUE), (e_navy, NAVY)]),
    ('(F)', (818, 353, 1140, 598), (12.25, 19.77), (2.67, 8.47), F_XTICKS, F_YTICKS, (825, 392), 1.1,
     [(f_yellow, YELLOW), (f_red, RED), (f_green, GREEN), (f_teal, TEAL), (f_sky, SKY), (f_blue, BLUE),
      (f_blue2, BLUE), (f_blue3, SKY), (f_navy, NAVY), (f_navy2, BLUE)]),
    ('(G)', (22, 685, 337, 932), (1.19, 5.9), (3.87, 7.58), D_XTICKS, D_YTICKS, (33, 748), 1.1,
     [(g_yellow, YELLOW), (g_orange, ORANGE), (g_red, RED), (g_green, GREEN), (g_teal, TEAL), (g_sky, SKY),
      (g_sky2, SKY), (g_blue, BLUE), (g_blue2, BLUE), (g_blue3, SKY), (g_blue4, BLUE), (g_blue5, BLUE),
      (g_navy, NAVY), (g_navy2, TEAL)]),
    ('(H)', (422, 687, 735, 933), (1.18, 6.0), (3.7, 7.53), H_XTICKS, D_YTICKS, (438, 752), 1.1,
     [(h_yellow, YELLOW), (h_red, RED), (h_green, GREEN), (h_green2, TEAL), (h_teal, TEAL), (h_sky, SKY),
      (h_blue, BLUE), (h_blue2, BLUE), (h_blue3, SKY), (h_blue4, BLUE), (h_navy, NAVY), (h_blob, RED)]),
    ('(I)', (817, 690, 1133, 935), (0.3, 18.76), (-1.0, 13.55), I_XTICKS, I_YTICKS, (823, 752), 1.0,
     [(i_yellow, YELLOW), (i_yellow2, YELLOW), (i_orange, ORANGE), (i_red, RED), (i_navy, NAVY), (i_blue, BLUE),
      (i_blue_right, BLUE), (i_blue_mid, BLUE), (i_blue_left, BLUE), (i_green, GREEN), (i_green_down, TEAL),
      (i_teal, TEAL)]),
]


def unzip(pts):
    return [p[0] for p in pts], [p[1] for p in pts]


fig = plt.figure(figsize=(W / 100, H / 100), dpi=100)
fig.patch.set_facecolor('white')

for label, box, xlim, ylim, xticks, yticks, lab_pos, lw, traces in panels:
    x0, y0, x1, y1 = box
    ax = fig.add_axes([x0 / W, 1 - y1 / H, (x1 - x0) / W, (y1 - y0) / H])
    for pts, col in traces:
        xs, ys = unzip(pts)
        ax.plot(xs, ys, color=col, lw=lw, solid_joinstyle='miter')
    ax.set_xlim(*xlim)
    ax.set_ylim(*ylim)
    ax.set_xticks(xticks)
    ax.set_xticklabels([f'{t:g}' for t in xticks])
    ax.set_yticks(yticks)
    ax.set_yticklabels([f'{t:g}' for t in yticks])
    for side in ('top', 'right'):
        ax.spines[side].set_visible(False)
    for side in ('left', 'bottom'):
        ax.spines[side].set_color('#333333')
        ax.spines[side].set_linewidth(0.8)
    ax.tick_params(direction='in', length=3, width=0.7, color='#333333', pad=3,
                   labelsize=7, labelcolor='#333333')
    for t in ax.get_xticklabels() + ax.get_yticklabels():
        t.set_fontweight('bold')
        t.set_family('Liberation Sans')
    lx, ly = lab_pos
    ax.text((lx - x0) / (x1 - x0), (y1 - ly) / (y1 - y0), label, transform=ax.transAxes,
            ha='left', va='center', fontsize=17, fontweight='bold', family='Liberation Serif',
            color='#111111')

fig.savefig('out.png', dpi=100, facecolor='white')
